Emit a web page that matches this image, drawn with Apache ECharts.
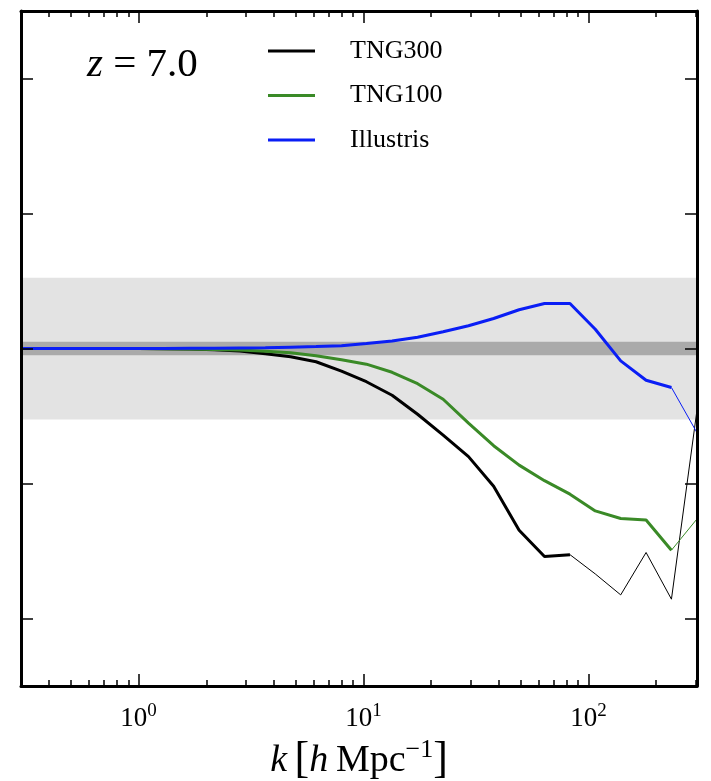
<!DOCTYPE html>
<html>
<head>
<meta charset="utf-8">
<script src="https://cdn.jsdelivr.net/npm/echarts@6/dist/echarts.min.js"></script>
<style>
  html, body { margin: 0; padding: 0; background: #fff; }
  #chart { width: 711px; height: 781px; }
</style>
</head>
<body>
<div id="chart"></div>
<script>
// Wavenumber bins k [h/Mpc]
const kValues = [0.30, 0.352, 0.457, 0.593, 0.769, 1.00, 1.29, 1.68, 2.17, 2.82,
  3.66, 4.74, 6.15, 7.98, 10.3, 13.4, 17.4, 22.6, 29.3, 37.9,
  49.2, 63.8, 82.8, 107.3, 139.2, 180.5, 234.0, 303.5];

// Power spectrum ratio (hydro / dark matter only) at z = 7
const tng300 = [1.0, 1.0, 1.0, 1.0, 1.0, 1.0, 0.9999, 0.9997, 0.9991, 0.9981,
  0.9961, 0.9939, 0.9902, 0.9832, 0.9754, 0.9654, 0.9513, 0.9358, 0.9199, 0.8980,
  0.8654, 0.8459, 0.8473, 0.8330, 0.8175, 0.8489, 0.8143, 0.9536];
const tng100 = [1.0, 1.0, 1.0, 1.0, 1.0, 1.0, 0.9999, 0.9997, 0.9993, 0.9989,
  0.9980, 0.9969, 0.9947, 0.9917, 0.9884, 0.9824, 0.9739, 0.9624, 0.9447, 0.9280,
  0.9136, 0.9021, 0.8921, 0.8797, 0.8741, 0.8730, 0.8506, 0.8736];
const illustris = [1.0, 1.0, 1.0, 1.0, 1.0, 1.0, 1.0, 1.0001, 1.0002, 1.0004,
  1.0006, 1.0010, 1.0014, 1.0021, 1.0037, 1.0056, 1.0084, 1.0124, 1.0169, 1.0222,
  1.0287, 1.0333, 1.0333, 1.0143, 0.9908, 0.9765, 0.9711, 0.9378];

// Last bin index drawn with a heavy line (beyond it the line is thin)
const tng300ThickEnd = 22;
const tng100ThickEnd = 26;
const illustrisThickEnd = 26;

// Axis ticks
const xMajorTicks = [1, 10, 100];
const xMinorTicks = [0.4, 0.5, 0.6, 0.7, 0.8, 0.9, 2, 3, 4, 5, 6, 7, 8, 9,
  20, 30, 40, 50, 60, 70, 80, 90, 200, 300];
const yTicks = [0.8, 0.9, 1.0, 1.1, 1.2];

// Shaded tolerance bands around unity
const outerBand = [0.9475, 1.0525];
const innerBand = [0.995, 1.005];

const colors = { tng300: '#000000', tng100: '#3a8a27', illustris: '#0a1ef5' };
const serif = 'Liberation Serif';

function pairs(values, from, to) {
  const out = [];
  for (let i = from; i <= to; i++) out.push([kValues[i], values[i]]);
  return out;
}

function lineSeries(name, values, from, to, color, width) {
  return {
    name: name,
    type: 'line',
    data: pairs(values, from, to),
    showSymbol: false,
    symbol: 'none',
    color: color,
    lineStyle: { color: color, width: width },
    z: 3,
    silent: true
  };
}

const last = kValues.length - 1;
const xRange = { min: 0.3, max: 304 };
const yRange = { min: 0.75, max: 1.25 };

function xAxisDef(position, ticks, len, showLine, showLabels) {
  const ax = {
    type: 'log',
    logBase: 10,
    min: xRange.min,
    max: xRange.max,
    position: position,
    z: 10,
    axisLine: { show: showLine, onZero: false, lineStyle: { color: '#000', width: 3 } },
    axisTick: { show: true, inside: true, length: len, customValues: ticks,
      lineStyle: { color: '#000', width: 1.5 } },
    splitLine: { show: false },
    minorTick: { show: false },
    axisLabel: { show: false }
  };
  if (showLabels) {
    ax.axisLabel = {
      show: true,
      customValues: xMajorTicks,
      margin: 16,
      formatter: function (v) {
        return '{b|10}{s|' + Math.round(Math.log10(v)) + '}';
      },
      rich: {
        b: { fontFamily: serif, fontSize: 27, color: '#000' },
        s: { fontFamily: serif, fontSize: 19, color: '#000', padding: [0, 0, 14, 0] }
      }
    };
    ax.name = '{i|k}{n|\u2009}{br|[}{i|h}{n|\u2009Mpc}{s|\u22121}{br|]}';
    ax.nameLocation = 'middle';
    ax.nameGap = 50;
    ax.nameTextStyle = {
      rich: {
        i: { fontFamily: serif, fontStyle: 'italic', fontSize: 38, color: '#000' },
        n: { fontFamily: serif, fontSize: 38, color: '#000' },
        br: { fontFamily: serif, fontSize: 44, color: '#000' },
        s: { fontFamily: serif, fontSize: 26, color: '#000', padding: [0, 0, 22, 0] }
      }
    };
  }
  return ax;
}

function yAxisDef(position) {
  return {
    type: 'value',
    min: yRange.min,
    max: yRange.max,
    position: position,
    z: 10,
    axisLine: { show: true, onZero: false, lineStyle: { color: '#000', width: 3 } },
    axisTick: { show: true, inside: true, length: 12, customValues: yTicks,
      lineStyle: { color: '#000', width: 1.5 } },
    axisLabel: { show: false },
    splitLine: { show: false }
  };
}

const chart = echarts.init(document.getElementById('chart'), null, { renderer: 'canvas' });

chart.setOption({
  animation: false,
  backgroundColor: '#ffffff',
  grid: { left: 21, right: 14, top: 11, bottom: 95, containLabel: false, outerBoundsMode: 'none' },
  title: {
    text: '{i|z}{n| = 7.0}',
    left: 87,
    top: 45,
    padding: 0,
    textStyle: {
      fontWeight: 'normal',
      rich: {
        i: { fontFamily: serif, fontStyle: 'italic', fontWeight: 'normal', fontSize: 41, color: '#000' },
        n: { fontFamily: serif, fontWeight: 'normal', fontSize: 41, color: '#000' }
      }
    }
  },
  legend: {
    data: ['TNG300', 'TNG100', 'Illustris'],
    orient: 'vertical',
    left: 268,
    top: 35,
    padding: 0,
    icon: 'rect',
    itemWidth: 47,
    itemHeight: 3,
    itemGap: 12.5,
    selectedMode: false,
    textStyle: { fontFamily: serif, fontSize: 26, color: '#000', lineHeight: 32,
      padding: [0, 0, 0, 30] }
  },
  xAxis: [
    xAxisDef('bottom', xMajorTicks, 12, true, true),
    xAxisDef('bottom', xMinorTicks, 6, false, false),
    xAxisDef('top', xMajorTicks, 12, true, false),
    xAxisDef('top', xMinorTicks, 6, false, false)
  ],
  yAxis: [yAxisDef('left'), yAxisDef('right')],
  series: [
    {
      name: 'bands',
      type: 'line',
      data: [[xRange.min, 1.0]],
      showSymbol: false,
      symbol: 'none',
      lineStyle: { opacity: 0 },
      z: 1,
      silent: true,
      markArea: {
        silent: true,
        data: [
          [{ yAxis: outerBand[0], itemStyle: { color: '#e3e3e3', opacity: 1 } }, { yAxis: outerBand[1] }],
          [{ yAxis: innerBand[0], itemStyle: { color: '#aaaaaa', opacity: 1 } }, { yAxis: innerBand[1] }]
        ]
      }
    },
    lineSeries('TNG300', tng300, 0, tng300ThickEnd, colors.tng300, 3),
    lineSeries('TNG300', tng300, tng300ThickEnd, last, colors.tng300, 1),
    lineSeries('TNG100', tng100, 0, tng100ThickEnd, colors.tng100, 3),
    lineSeries('TNG100', tng100, tng100ThickEnd, last, colors.tng100, 1),
    lineSeries('Illustris', illustris, 0, illustrisThickEnd, colors.illustris, 3),
    lineSeries('Illustris', illustris, illustrisThickEnd, last, colors.illustris, 1)
  ]
});
</script>
</body>
</html>
